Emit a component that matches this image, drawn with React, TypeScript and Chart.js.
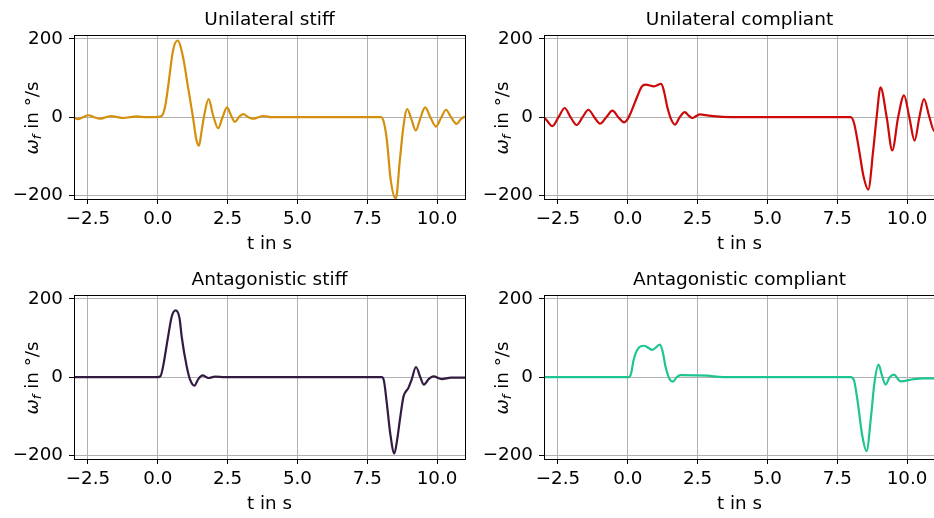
import React, { useEffect, useRef } from "react";
import { Chart, registerables } from "chart.js";

Chart.register(...registerables);

// ---- axes / text ----
const X_TICKS = [-2.5, 0, 2.5, 5, 7.5, 10];
const Y_TICKS = [-200, 0, 200];
const X_MIN = -3;
const X_MAX = 11;
const Y_MIN = -209;
const Y_MAX = 210;
const X_LABEL = "t in s";
const Y_LABEL_SYMBOL = "ω";
const Y_LABEL_SUB = "f";
const Y_LABEL_REST = " in °/s";
const TITLES = [
  "Unilateral stiff",
  "Unilateral compliant",
  "Antagonistic stiff",
  "Antagonistic compliant",
];
const COLORS = ["#D4900C", "#CC0A0A", "#331A40", "#1FC493"];

// ---- series: Unilateral stiff ----
const tUniStiff = [
  -3, -2.86, -2.68, -2.49, -2.28, -2.07, -1.86, -1.66, -1.45, -1.24, -1.0, -0.76, -0.4, 0.0, 0.15, 0.27, 0.37,
  0.55, 0.71, 0.9, 1.08, 1.26, 1.38, 1.475, 1.56, 1.65, 1.82, 1.98, 2.16, 2.32, 2.48, 2.62, 2.76, 2.9, 3.06,
  3.24, 3.42, 3.6, 3.78, 4.1, 8.0, 8.1, 8.2, 8.34, 8.52, 8.67, 8.79, 8.93, 9.08, 9.24, 9.4, 9.57, 9.76, 9.96,
  10.14, 10.32, 10.5, 10.7, 10.85, 11,
];
const wUniStiff = [
  -1, -5, 0, 5, 0, -4, 0, 3, 0, -2, 0, 2, 0, 1, 4, 30, 78,
  172, 196, 155, 78, 0, -57, -73, -40, 0, 46, 5, -28, 0, 25, 5, -12, 0, 8,
  0, -4, 0, 3, 0, 0, -15, -57, -160, -208, -108, -27, 21, -5, -34, -3, 25, 0, -24,
  -2, 19, 0, -17, -5, 2,
];

// ---- series: Unilateral compliant ----
const tUniComp = [
  -3, -2.88, -2.7, -2.48, -2.26, -2.05, -1.83, -1.62, -1.41, -1.2, -0.995, -0.77, -0.55, -0.34, -0.136, 0.0,
  0.1, 0.34, 0.5, 0.64, 0.94, 1.2, 1.3, 1.41, 1.55, 1.69, 1.86, 2.04, 2.18, 2.31, 2.45, 2.58, 2.9, 3.4, 4.0,
  7.98, 8.1, 8.28, 8.44, 8.61, 8.79, 8.91, 9.05, 9.27, 9.47, 9.68, 9.89, 10.08, 10.27, 10.44, 10.605, 10.8,
  10.98, 11,
];
const wUniComp = [
  0, -10, -23, 0, 23.5, 0, -20, 0, 19, 0, -16.6, 0, 16.6, 0, -13, -4,
  10, 53, 78, 83, 78.6, 85.5, 65, 27.6, -5, -19, 0, 13, 4, -2, 3, 7, 4, 1, 0,
  0, -15, -83, -151, -185, -83, 0, 76, 0, -84.7, 0, 55.6, 0, -60, 0, 46, 0,
  -36, -35,
];

// ---- series: Antagonistic stiff ----
const tAntStiff = [
  -3, 0.0, 0.1, 0.19, 0.37, 0.5, 0.64, 0.78, 0.855, 1.035, 1.15, 1.31, 1.45, 1.6, 1.81, 2.05, 2.4,
  8.02, 8.1, 8.2, 8.32, 8.47, 8.57, 8.67, 8.8, 8.97, 9.09, 9.245, 9.4, 9.53, 9.7, 9.87, 10.17, 10.5, 11,
];
const wAntStiff = [
  0, 0, 3, 27.6, 104, 155, 170.5, 150, 104, 27.6, -5, -21.7, -5, 4.7, -2, 1.3, 0,
  0, -10, -66, -142, -195, -160, -108, -49, -28, -6, 26, 0, -19, -5, 2, -4.7, -1, -1,
];

// ---- series: Antagonistic compliant ----
const tAntComp = [
  -3, 0.04, 0.12, 0.21, 0.4, 0.58, 0.88, 1.15, 1.25, 1.35, 1.5, 1.62, 1.75, 1.89, 2.84, 3.4,
  7.98, 8.1, 8.22, 8.4, 8.55, 8.71, 8.83, 8.98, 9.1, 9.23, 9.38, 9.53, 9.77, 10.25, 10.6, 11,
];
const wAntComp = [
  0, 0, 10, 44.6, 76, 80.4, 70, 83, 65, 27.6, -5, -11.5, 0, 5.5, 4, 0,
  0, -8, -57, -151, -189, -100, -15, 32, 5, -19, 0, 6.4, -10.6, -4.7, -3, -3,
];

const SERIES_T = [tUniStiff, tUniComp, tAntStiff, tAntComp];
const SERIES_W = [wUniStiff, wUniComp, wAntStiff, wAntComp];

const FONT = "DejaVu Sans";
const TICK_SIZE = 18.3;
const LABEL_SIZE = 18.3;
const TITLE_SIZE = 18.5;

const minus = (s: string) => s.replace("-", "\u2212");

const framePlugin = {
  id: "frame",
  afterDatasetsDraw(chart: any) {
    const { ctx, chartArea: a } = chart;
    ctx.save();
    ctx.strokeStyle = "#000";
    ctx.lineWidth = 1;
    const l = Math.round(a.left) + 0.5;
    const t = Math.round(a.top) + 0.5;
    const r = Math.round(a.right) + 0.5;
    const b = Math.round(a.bottom) + 0.5;
    ctx.strokeRect(l, t, r - l, b - t);
    ctx.restore();
  },
};

const yLabelPlugin = {
  id: "ylabel",
  afterDraw(chart: any) {
    const { ctx, chartArea: a } = chart;
    const parts = [
      { text: Y_LABEL_SYMBOL, font: `italic ${LABEL_SIZE}px "${FONT}"`, dy: 0 },
      { text: Y_LABEL_SUB, font: `italic ${LABEL_SIZE * 0.7}px "${FONT}"`, dy: 3.5 },
      { text: Y_LABEL_REST, font: `${LABEL_SIZE}px "${FONT}"`, dy: 0 },
    ];
    ctx.save();
    let total = 0;
    const widths = parts.map((p) => {
      ctx.font = p.font;
      const w = ctx.measureText(p.text).width;
      total += w;
      return w;
    });
    ctx.translate(37.5, (a.top + a.bottom) / 2 + 1);
    ctx.rotate(-Math.PI / 2);
    ctx.fillStyle = "#000";
    ctx.textBaseline = "alphabetic";
    ctx.textAlign = "left";
    let x = -total / 2;
    parts.forEach((p, i) => {
      ctx.font = p.font;
      ctx.fillText(p.text, x, p.dy);
      x += widths[i];
    });
    ctx.restore();
  },
};

function Panel(props: { index: number; left: number; top: number }) {
  const { index, left, top } = props;
  const ref = useRef<HTMLCanvasElement>(null);
  useEffect(() => {
    const t = SERIES_T[index];
    const w = SERIES_W[index];
    const chart = new Chart(ref.current as HTMLCanvasElement, {
      type: "line",
      data: {
        datasets: [
          {
            data: t.map((x, i) => ({ x, y: w[i] })),
            borderColor: COLORS[index],
            borderWidth: 2.2,
            pointRadius: 0,
            cubicInterpolationMode: "monotone",
            fill: false,
          },
        ],
      },
      options: {
        animation: false,
        responsive: false,
        maintainAspectRatio: false,
        events: [],
        layout: { padding: { left: 0, right: 2, top: 0, bottom: 0 } },
        plugins: {
          legend: { display: false },
          tooltip: { enabled: false },
          title: {
            display: true,
            fullSize: false,
            text: TITLES[index],
            color: "#000",
            font: { family: FONT, size: TITLE_SIZE, weight: "normal", lineHeight: 1.2 },
            padding: { top: 9, bottom: 3.8 },
          },
        },
        scales: {
          x: {
            type: "linear",
            min: X_MIN,
            max: X_MAX,
            afterBuildTicks: (s: any) => {
              s.ticks = X_TICKS.map((v) => ({ value: v }));
            },
            afterFit: (s: any) => {
              s.height = 61;
            },
            ticks: {
              callback: (v: any) => minus(Number(v).toFixed(1)),
              color: "#000",
              font: { family: FONT, size: TICK_SIZE },
              padding: 4,
              maxRotation: 0,
              autoSkip: false,
            },
            grid: { color: "#b0b0b0", lineWidth: 1, tickColor: "#000", tickLength: 5, tickWidth: 1 },
            border: { display: false },
            title: {
              display: true,
              text: X_LABEL,
              color: "#000",
              font: { family: FONT, size: LABEL_SIZE, lineHeight: 1.2 },
              padding: { top: 0, bottom: 4.5 },
            },
          },
          y: {
            type: "linear",
            min: Y_MIN,
            max: Y_MAX,
            afterBuildTicks: (s: any) => {
              s.ticks = Y_TICKS.map((v) => ({ value: v }));
            },
            afterFit: (s: any) => {
              s.width = 74;
            },
            ticks: {
              callback: (v: any) => minus(String(v)),
              color: "#000",
              font: { family: FONT, size: TICK_SIZE },
              padding: 6,
              autoSkip: false,
            },
            grid: { color: "#b0b0b0", lineWidth: 1, tickColor: "#000", tickLength: 5, tickWidth: 1 },
            border: { display: false },
          },
        },
      } as any,
      plugins: [framePlugin, yLabelPlugin],
    });
    return () => chart.destroy();
  }, [index]);
  return (
    <canvas
      ref={ref}
      width={467}
      height={260}
      style={{ position: "absolute", left, top, width: 467, height: 260 }}
    />
  );
}

export default function App() {
  useEffect(() => {
    document.body.style.margin = "0";
  }, []);
  return (
    <div
      style={{
        position: "relative",
        width: 934,
        height: 518,
        overflow: "hidden",
        background: "#fff",
      }}
    >
      <Panel index={0} left={0} top={0} />
      <Panel index={1} left={470} top={0} />
      <Panel index={2} left={0} top={260} />
      <Panel index={3} left={470} top={260} />
    </div>
  );
}
